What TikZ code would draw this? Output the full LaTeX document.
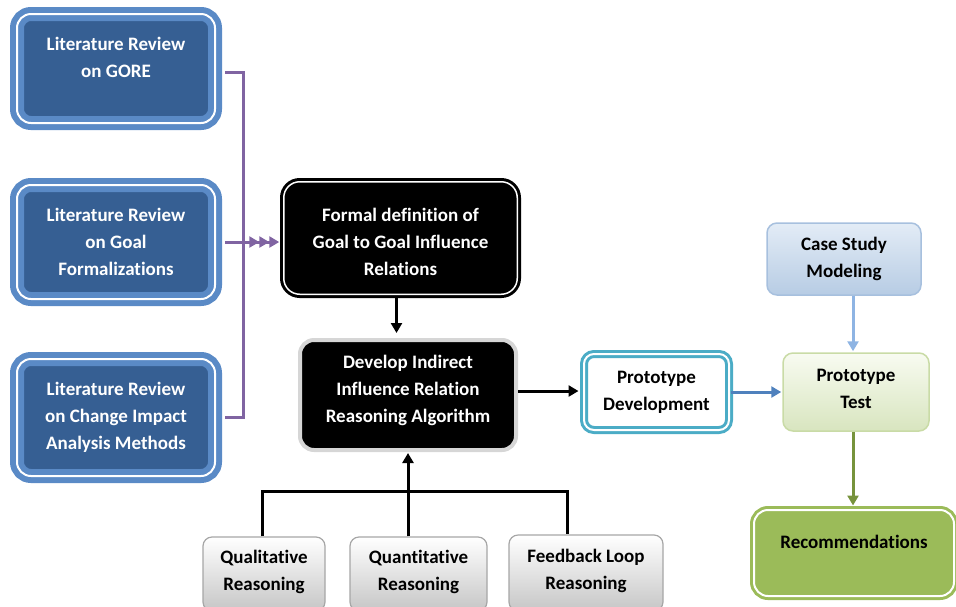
\documentclass[tikz,border=0pt]{standalone}
\usepackage{fontspec}
\setmainfont{Carlito}[Ligatures={NoCommon}]
\usetikzlibrary{arrows.meta}

\definecolor{lrring}{HTML}{5A8AC6}
\definecolor{lrfill}{HTML}{365F93}
\definecolor{flowpurple}{HTML}{8064A2}
\definecolor{prototeal}{HTML}{4BACC6}
\definecolor{arrowblue}{HTML}{4F81BD}
\definecolor{lightblue}{HTML}{8EB4E3}
\definecolor{arrowgreen}{HTML}{77933C}
\definecolor{recgreen}{HTML}{9BBB59}
\definecolor{casetop}{HTML}{E3ECF6}
\definecolor{casebot}{HTML}{B7CCE4}
\definecolor{caseedge}{HTML}{A7C0DE}
\definecolor{testtop}{HTML}{F8FBF1}
\definecolor{testbot}{HTML}{D8E5BF}
\definecolor{testedge}{HTML}{C9DBA6}
\definecolor{greyedge}{HTML}{A6A6A6}
\definecolor{greybot}{HTML}{C6C6C6}
\definecolor{devedge}{HTML}{D6D6D6}

\begin{document}
\begin{tikzpicture}[x=1pt, y=-1pt,
  font=\fontsize{19}{27}\selectfont\bfseries,
  box/.style={rectangle, align=center, inner sep=0pt},
  wtext/.style={text=white, align=center, font=\fontsize{19}{27}\selectfont\bfseries},
  btext/.style={text=black, align=center, font=\fontsize{19}{27}\selectfont\bfseries},
  lrbox/.style={box, draw=lrring, double=white, line width=6pt, double distance=2pt,
    fill=lrfill, rounded corners=14pt, minimum width=198pt, text=white},
  blackbox/.style={box, draw=black, double=white, line width=3pt, double distance=1.5pt,
    fill=black, rounded corners=16pt, text=white},
  devbox/.style={box, draw=devedge, line width=4pt, fill=black, rounded corners=14pt, text=white},
  protobox/.style={box, draw=prototeal, double=white, line width=3pt, double distance=2pt,
    fill=white, rounded corners=10pt},
  casebox/.style={box, draw=caseedge, line width=1.5pt, top color=casetop, bottom color=casebot,
    rounded corners=10pt},
  testbox/.style={box, draw=testedge, line width=1.5pt, top color=testtop, bottom color=testbot,
    rounded corners=10pt},
  recbox/.style={box, draw=recgreen, double=white, line width=3pt, double distance=2pt,
    fill=recgreen, rounded corners=14pt},
  greybox/.style={box, draw=greyedge, line width=1.2pt, top color=white, bottom color=greybot,
    rounded corners=9pt},
  tip/.style={-{Triangle[length=10pt,width=11pt]}},
  purpleline/.style={draw=flowpurple, line width=3pt},
  blackline/.style={draw=black, line width=3pt},
]
\clip (0,0) rectangle (956,606);

% literature review boxes
\node[lrbox, minimum height=109pt, label={[wtext, yshift=11pt]center:{Literature Review\\on GORE}}] (lr1) at (116,68.5) {};
\node[lrbox, minimum height=114pt] (lr2) at (116,242) {Literature Review\\on Goal\\Formalizations};
\node[lrbox, minimum height=117pt] (lr3) at (116,417.5) {Literature Review\\on Change Impact\\Analysis Methods};

% central black boxes
\node[blackbox, minimum width=233.5pt, minimum height=112.5pt,
  label={[wtext, yshift=-4pt]center:{Formal definition of\\Goal to Goal Influence\\Relations}}] (formal) at (400.5,238) {};
\node[devbox, minimum width=216pt, minimum height=110pt,
  label={[wtext, yshift=5pt]center:{Develop Indirect\\Influence Relation\\Reasoning Algorithm}}] (dev) at (408,395) {};

% prototype chain
\node[protobox, minimum width=145pt, minimum height=76pt] (pdev) at (656.5,392) {Prototype\\Development};
\node[casebox, minimum width=154pt, minimum height=72pt] (case) at (844,259) {Case Study\\Modeling};
\node[testbox, minimum width=146pt, minimum height=78pt,
  label={[btext, yshift=3pt]center:{Prototype\\Test}}] (test) at (856,392) {};
\node[recbox, minimum width=200pt, minimum height=86pt,
  label={[btext, yshift=11pt]center:{Recommendations}}] (rec) at (854,553) {};

% reasoning kinds
\node[greybox, minimum width=122pt, minimum height=74pt,
  label={[btext, yshift=2.5pt]center:{Qualitative\\Reasoning}}] (qual) at (264,574) {};
\node[greybox, minimum width=137pt, minimum height=74pt,
  label={[btext, yshift=2.5pt]center:{Quantitative\\Reasoning}}] (quant) at (418.5,574) {};
\node[greybox, minimum width=154pt, minimum height=76pt,
  label={[btext, yshift=2.5pt]center:{Feedback Loop\\Reasoning}}] (feed) at (586,573) {};

% purple collector from the literature reviews
\coordinate (join) at (243,242);
\draw[purpleline] ([xshift=7pt, yshift=-3.5pt]lr1.east) -| (join) |- ([xshift=7pt]lr3.east);
\draw[purpleline, -{Triangle[length=10pt,width=11pt] Triangle[length=10pt,width=11pt] Triangle[length=10pt,width=11pt]}, shorten >=3pt]
  ([xshift=7pt]lr2.east) -- (lr2.east -| formal.west);

% black flow
\draw[blackline, tip, shorten >=5pt] ([xshift=-4pt]formal.south) -- ([xshift=-4pt]formal.south |- dev.north);
\draw[blackline, tip, shorten >=4pt] ([yshift=4pt]dev.east) -- ([yshift=4pt]dev.east -| pdev.west);

% reasoning tree
\coordinate (bar) at (0,491.5);
\draw[blackline] ([xshift=-1.5pt]qual.north) |- (bar -| dev.south) -| ([xshift=-19pt]feed.north);
\draw[blackline, tip, shorten >=1pt] (dev.south |- quant.north) -- (dev.south);

% prototype arrows
\draw[draw=arrowblue, line width=3pt, tip, shorten >=1pt] (pdev.east) -- (pdev.east -| test.west);
\draw[draw=lightblue, line width=3pt, tip, shorten >=1pt] ([xshift=9pt]case.south) -- ([xshift=9pt]case.south |- test.north);
\draw[draw=arrowgreen, line width=3pt, tip, shorten >=3pt] ([xshift=-3pt]test.south) -- ([xshift=-3pt]test.south |- rec.north);
\end{tikzpicture}
\end{document}
